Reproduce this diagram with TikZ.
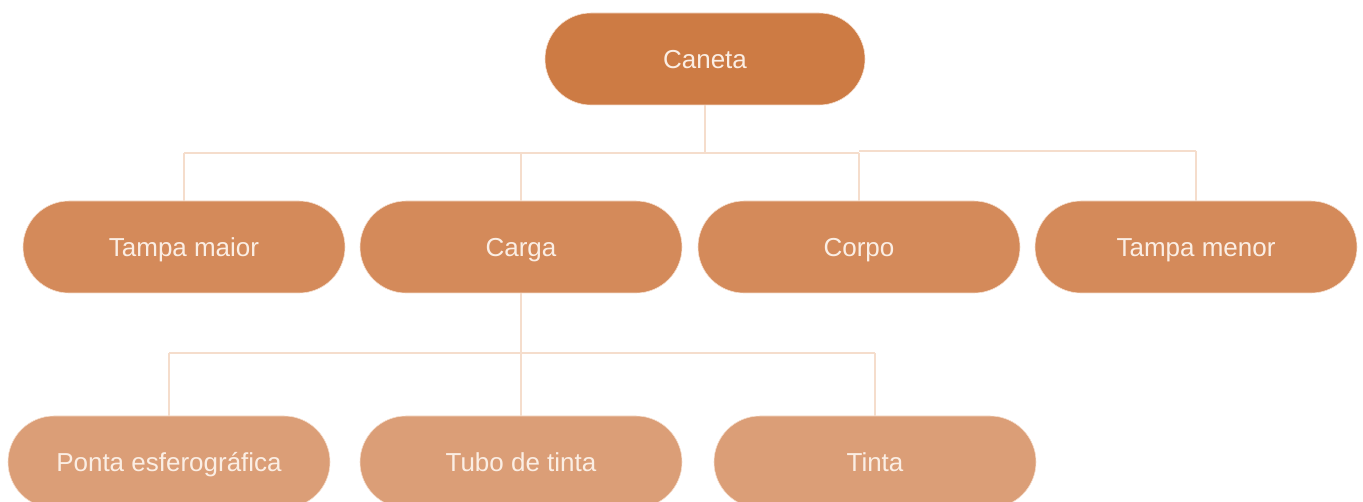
\documentclass[tikz,border=0pt]{standalone}
\usepackage{fontspec}
\setmainfont{Liberation Sans}
\definecolor{topfill}{HTML}{CD7B44}
\definecolor{midfill}{HTML}{D48A5A}
\definecolor{lowfill}{HTML}{DB9E77}
\definecolor{linkcol}{HTML}{F5DDCC}
\definecolor{txtcol}{HTML}{FBEEE4}
\tikzset{
  pill/.style={rectangle, rounded corners=46pt, minimum width=322pt, minimum height=92pt,
    inner sep=0pt, text height=18.6pt, text depth=0pt, draw=linkcol, line width=0.6pt,
    text=txtcol, font=\fontsize{26}{30}\selectfont},
  toppill/.style={pill, fill=topfill, minimum width=320pt},
  midpill/.style={pill, fill=midfill},
  lowpill/.style={pill, fill=lowfill},
  link/.style={draw=linkcol, line width=2.2pt}
}
\begin{document}
\begin{tikzpicture}[x=1pt,y=-1pt]
\useasboundingbox (0,0) rectangle (1363,502);
\clip (0,0) rectangle (1363,502);
\coordinate (j0) at (705,153);
\coordinate (jl) at (184,153);
\coordinate (jm) at (859,153);
\coordinate (jr) at (1196,151);
\coordinate (kl) at (169,353);
\coordinate (kr) at (875,353);
\node[toppill] (caneta) at (705,59) {Caneta};
\node[midpill] (tmaior) at (184,247) {Tampa maior};
\node[midpill] (carga) at (521,247) {Carga};
\node[midpill] (corpo) at (859,247) {Corpo};
\node[midpill] (tmenor) at (1196,247) {Tampa menor};
\node[lowpill] (ponta) at (169,462) {Ponta esferográfica};
\node[lowpill] (tubo) at (521,462) {Tubo de tinta};
\node[lowpill] (tinta) at (875,462) {Tinta};
\draw[link] (caneta.south) -- (j0);
\draw[link] (jl) -- (jm);
\draw[link] (jm |- jr) -- (jr);
\draw[link] (jl) -- (tmaior.north);
\draw[link] (carga.north |- jl) -- (carga.north);
\draw[link] (jm) -- (corpo.north);
\draw[link] (jr) -- (tmenor.north);
\draw[link] (carga.south) -- (tubo.north);
\draw[link] (kl) -- (kr);
\draw[link] (kl) -- (ponta.north);
\draw[link] (kr) -- (tinta.north);
\end{tikzpicture}
\end{document}
